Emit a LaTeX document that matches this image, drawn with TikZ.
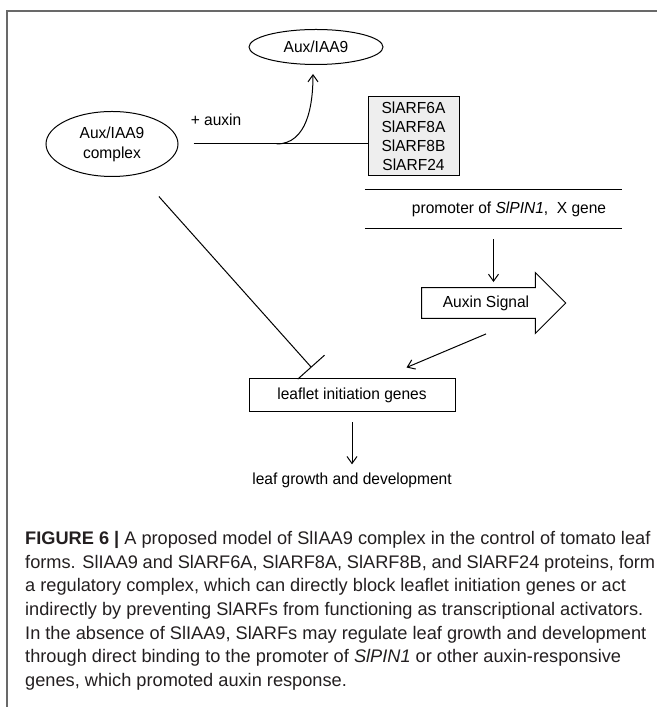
\documentclass[tikz,border=0pt]{standalone}
\usepackage{fontspec}
\setmainfont{Liberation Sans}[FakeStretch=0.97]
\newfontfamily\capfont{Liberation Sans}
\usetikzlibrary{shapes.geometric, shapes.arrows, arrows.meta, positioning}
\definecolor{boxfill}{RGB}{238, 238, 238}
\definecolor{framegray}{RGB}{105, 105, 105}
\definecolor{captext}{RGB}{35, 31, 32}

\begin{document}
\begin{tikzpicture}[
            x=1pt, y=1pt, on grid,
            font=\fontsize{16pt}{19pt}\selectfont,
            ellip/.style={draw, ellipse, line width=1pt, inner sep=0pt, align=center},
            box/.style={draw, line width=1pt, inner sep=0pt, align=center},
            sig/.style={draw, single arrow, line width=1pt, single arrow head extend=15pt, single arrow tip angle=90, minimum height=144pt, inner ysep=7.5pt},
            arrow/.style={-{Straight Barb[length=7pt, width=10pt]}, line width=1pt},
            block/.style={-{Bar[width=36pt]}, line width=1pt},
            lbl/.style={inner sep=0pt}
        ]
            \useasboundingbox (0,0) rectangle (657,707);
            \draw[framegray, line width=1.2pt] (7,0) |- (657,696);

            \node[ellip, minimum width=132pt, minimum height=65pt, font=\fontsize{16pt}{20pt}\selectfont] (complex) at (112,563) {Aux/IAA9\\complex};
            \node[ellip, minimum width=134pt, minimum height=35pt, above right=97pt and 204pt of complex] (aux) {Aux/IAA9};
            \node[box, fill=boxfill, minimum width=91pt, minimum height=79pt, above right=7.5pt and 301.5pt of complex] (arf) {SlARF6A\\SlARF8A\\SlARF8B\\SlARF24};
            \coordinate[right=98pt of complex.east] (split);
            \node[lbl, above left=18pt and 35pt of split] (plus) {+ auxin};
            \node[lbl, minimum width=257pt, minimum height=38pt, below right=72.5pt and 80pt of arf] (promoter) {\hspace*{31pt}promoter of \textit{SlPIN1},\ \ X gene};
            \node[sig, below left=94pt and 7.5pt of promoter] (signal) {Auxin Signal};
            \node[box, minimum width=206pt, minimum height=33pt, below left=92.5pt and 134pt of signal] (leaf) {leaflet initiation genes};
            \node[lbl, below=84.5pt of leaf] (growth) {leaf growth and development};

            \draw[line width=1pt] ([xshift=15pt]complex.east) -- (complex -| arf.west);
            \draw[arrow] (split) to[out=0, in=-90] ([xshift=-3pt, yshift=-9pt]aux.south);
            \draw[line width=1pt] (promoter.north west) -- (promoter.north east);
            \draw[line width=1pt] (promoter.south west) -- (promoter.south east);
            \draw[arrow] ([yshift=-11pt]promoter.south) -- ([yshift=5pt]promoter.south |- signal.north);
            \draw[arrow] ([yshift=-15pt]signal.south) -- ([xshift=-49pt, yshift=11pt]leaf.north east);
            \draw[block, shorten <=30pt] (complex) -- ([xshift=63pt, yshift=11pt]leaf.north west);
            \draw[arrow] ([yshift=-10pt]leaf.south) -- ([yshift=8pt]growth.north -| leaf.south);

            \node[lbl, anchor=base west, text=captext, font=\capfont\fontsize{18.2pt}{23.7pt}\selectfont] (caption) at (25,162.5) {\parbox[t]{630pt}{\raggedright
\textbf{FIGURE 6 |} A proposed model of SlIAA9 complex in the control of tomato leaf\\
forms. SlIAA9 and SlARF6A, SlARF8A, SlARF8B, and SlARF24 proteins, form\\
a regulatory complex, which can directly block leaflet initiation genes or act\\
indirectly by preventing SlARFs from functioning as transcriptional activators.\\
In the absence of SlIAA9, SlARFs may regulate leaf growth and development\\
through direct binding to the promoter of \textit{SlPIN1} or other auxin-responsive\\
genes, which promoted auxin response.}};
        \end{tikzpicture}
\end{document}
